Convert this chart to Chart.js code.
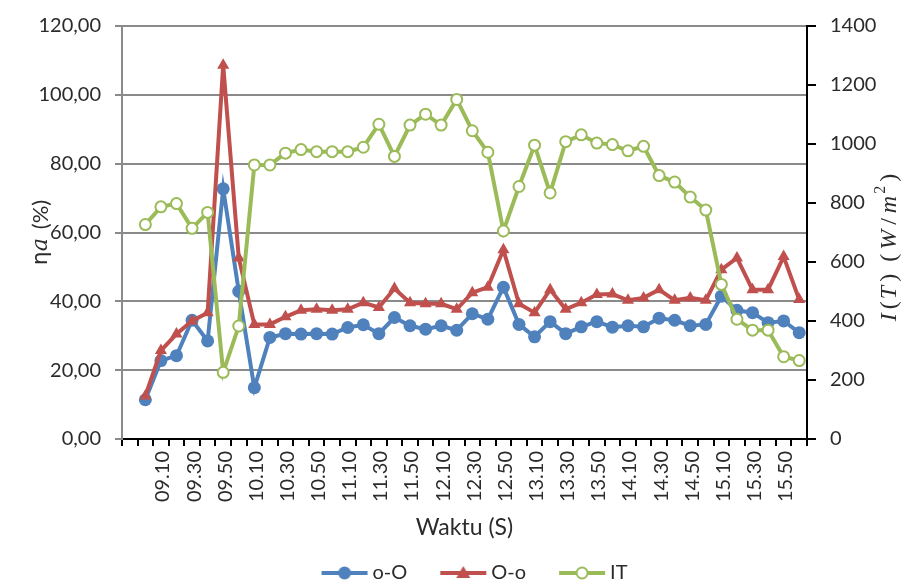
<!DOCTYPE html>
<html><head><meta charset="utf-8">
<script src="https://cdn.jsdelivr.net/npm/chart.js@4.4.0/dist/chart.umd.min.js"></script>
<style>html,body{margin:0;padding:0;background:#fff}#wrap{width:906px;height:583px;position:relative}canvas{display:block}</style>
</head><body><div id="wrap"><canvas id="c" width="906" height="583"></canvas></div>
<script>
// Category axis (first slot is an empty category, as in the reference)
const categories = ['', '09.00','09.10','09.20','09.30','09.40','09.50','10.00','10.10','10.20','10.30','10.40','10.50',
  '11.00','11.10','11.20','11.30','11.40','11.50','12.00','12.10','12.20','12.30','12.40','12.50',
  '13.00','13.10','13.20','13.30','13.40','13.50','14.00','14.10','14.20','14.30','14.40','14.50',
  '15.00','15.10','15.20','15.30','15.40','15.50','16.00'];

// ηa (%) series, left axis
const etaOO = [null, 11.4, 22.8, 24.2, 34.5, 28.5, 72.7, 42.9, 14.9, 29.5, 30.6, 30.5, 30.6, 30.5, 32.4, 33.2,
  30.6, 35.3, 32.9, 31.9, 32.9, 31.6, 36.4, 34.8, 44.1, 33.3, 29.7, 34.1, 30.6, 32.6, 34.1,
  32.5, 32.9, 32.6, 35.1, 34.5, 32.9, 33.3, 41.5, 37.4, 36.7, 33.8, 34.3, 30.9];
const etaOo = [null, 12.5, 25.7, 30.5, 34.3, 36.7, 108.6, 52.6, 33.3, 33.3, 35.5, 37.4, 37.7, 37.4, 37.7, 39.6,
  38.2, 43.7, 39.6, 39.3, 39.3, 37.7, 42.5, 44.1, 55.0, 39.3, 36.7, 43.4, 37.7, 39.6, 42.0,
  42.1, 40.3, 41.0, 43.4, 40.3, 41.0, 40.3, 49.2, 52.6, 43.4, 43.4, 53.0, 40.5];
// I(T) (W/m2) series, right axis
const irradiance = [null, 727, 787, 798, 714, 768, 226, 383, 929, 929, 969, 981, 974, 974, 974, 989,
  1067, 958, 1064, 1101, 1064, 1151, 1045, 972, 705, 856, 996, 834, 1008, 1031, 1003,
  998, 977, 992, 893, 871, 820, 776, 524, 406, 369, 369, 279, 266];

const seriesNames = ['o-O', 'O-o', 'IT'];
const leftTicks = {min: 0, max: 120, step: 20};
const rightTicks = {min: 0, max: 1400, step: 200};

const BLUE = '#4F81BD', RED = '#C0504D', GREEN = '#9BBB59';
const TXT = '#2b2b2b';
const FONT = 'Lato';

function legendImg(color, kind) {
  const c = document.createElement('canvas');
  c.width = 86; c.height = 18;
  const g = c.getContext('2d');
  g.strokeStyle = color; g.lineWidth = 4; g.lineCap = 'butt';
  g.beginPath(); g.moveTo(38, 9); g.lineTo(84, 9); g.stroke();
  const cx = 61, cy = 9;
  if (kind === 'circle') {
    g.fillStyle = color; g.beginPath(); g.arc(cx, cy, 6.5, 0, Math.PI * 2); g.fill();
  } else if (kind === 'tri') {
    g.fillStyle = color; g.beginPath();
    g.moveTo(cx, cy - 7); g.lineTo(cx + 7, cy + 5); g.lineTo(cx - 7, cy + 5); g.closePath(); g.fill();
  } else {
    g.fillStyle = '#fff'; g.lineWidth = 2; g.beginPath(); g.arc(cx, cy, 5.5, 0, Math.PI * 2); g.fill(); g.stroke();
  }
  return c;
}
const legendImgs = [legendImg(BLUE, 'circle'), legendImg(RED, 'tri'), legendImg(GREEN, 'open')];

function drawSegments(ctx, segs) {
  let total = 0;
  segs.forEach(s => { ctx.font = s.f; s.w = ctx.measureText(s.t).width; total += s.w + (s.gap || 0); });
  let x = -total / 2;
  segs.forEach(s => {
    ctx.font = s.f;
    ctx.fillText(s.t, x, s.dy || 0);
    x += s.w + (s.gap || 0);
  });
}

const titlePlugin = {
  id: 'axisTitles',
  afterDraw(chart) {
    const ctx = chart.ctx;
    const ca = chart.chartArea;
    const cy = (ca.top + ca.bottom) / 2;
    ctx.save();
    ctx.fillStyle = TXT;
    ctx.textBaseline = 'middle';
    ctx.textAlign = 'left';
    ctx.translate(41, cy);
    ctx.rotate(-Math.PI / 2);
    const upS = '22px ' + FONT, it = 'italic 22px "DejaVu Serif"';
    drawSegments(ctx, [
      {t: 'η', f: '22px "DejaVu Sans"'},
      {t: 'a', f: it, gap: 9},
      {t: '(%)', f: upS}
    ]);
    ctx.restore();
    ctx.save();
    ctx.fillStyle = TXT;
    ctx.textBaseline = 'middle';
    ctx.textAlign = 'left';
    ctx.translate(890, cy + 15);
    ctx.rotate(-Math.PI / 2);
    const it2 = 'italic 24px "Liberation Serif"', up2 = '24px "Liberation Serif"';
    drawSegments(ctx, [
      {t: 'I', f: it2, gap: 4},
      {t: '(', f: up2, gap: 2},
      {t: 'T', f: it2, gap: 4},
      {t: ')', f: up2, gap: 12},
      {t: '(', f: up2, gap: 4},
      {t: 'W', f: it2, gap: 5},
      {t: '/', f: up2, gap: 5},
      {t: 'm', f: it2, gap: 2},
      {t: '2', f: '16px "Liberation Serif"', dy: -9, gap: 4},
      {t: ')', f: up2}
    ]);
    ctx.restore();
  }
};

const fmt2 = v => Number(v).toFixed(2).replace('.', ',');

new Chart(document.getElementById('c'), {
  type: 'line',
  data: {
    labels: categories,
    datasets: [
      {label: seriesNames[0], data: etaOO, yAxisID: 'y', order: 3,
       borderColor: BLUE, backgroundColor: BLUE, borderWidth: 4,
       pointStyle: 'circle', pointRadius: 6.5, pointBackgroundColor: BLUE, pointBorderColor: BLUE, pointBorderWidth: 0},
      {label: seriesNames[1], data: etaOo, yAxisID: 'y', order: 2,
       borderColor: RED, backgroundColor: RED, borderWidth: 4,
       pointStyle: 'triangle', pointRadius: 7, pointBackgroundColor: RED, pointBorderColor: RED, pointBorderWidth: 0},
      {label: seriesNames[2], data: irradiance, yAxisID: 'y1', order: 1,
       borderColor: GREEN, backgroundColor: '#fff', borderWidth: 4,
       pointStyle: 'circle', pointRadius: 5.5, pointBackgroundColor: '#fff', pointBorderColor: GREEN, pointBorderWidth: 2}
    ]
  },
  options: {
    responsive: false,
    maintainAspectRatio: false,
    animation: false,
    devicePixelRatio: 1,
    layout: {padding: {top: 23, left: 12, right: 0, bottom: -10}},
    font: {family: FONT},
    plugins: {
      tooltip: {enabled: false},
      legend: {
        position: 'bottom',
        labels: {
          usePointStyle: true, pointStyleWidth: 72, padding: 2, color: TXT,
          font: {family: FONT, size: 20},
          generateLabels: (chart) => chart.data.datasets.map((ds, i) => ({
            text: ds.label, pointStyle: legendImgs[i], datasetIndex: i, hidden: false,
            fontColor: TXT, lineWidth: 0, strokeStyle: 'rgba(0,0,0,0)', fillStyle: 'rgba(0,0,0,0)'
          }))
        }
      }
    },
    scales: {
      x: {
        type: 'category', offset: true,
        grid: {offset: true, drawOnChartArea: false, drawTicks: true, tickLength: 7, tickColor: '#000', lineWidth: 2},
        border: {display: true, color: '#000', width: 2},
        ticks: {
          autoSkip: false, maxRotation: 90, minRotation: 90, padding: 5, labelOffset: 2,
          color: TXT, font: {family: FONT, size: 20},
          callback: (v, i) => (i > 0 && i % 2 === 0) ? categories[i] : ''
        },
        title: {display: true, text: 'Waktu (S)', color: TXT, font: {family: FONT, size: 23}, padding: {top: 0, bottom: 20}},
        afterFit: s => { s.height = 122; }
      },
      y: {
        position: 'left', min: leftTicks.min, max: leftTicks.max,
        grid: {color: c => c.tick && c.tick.value === 0 ? 'rgba(0,0,0,0)' : '#8a8a8a', lineWidth: 2,
               tickLength: 7, tickColor: '#8a8a8a'},
        border: {display: true, color: '#8a8a8a', width: 2},
        ticks: {stepSize: leftTicks.step, padding: 14, color: TXT, font: {family: FONT, size: 20}, callback: v => fmt2(v)},
        afterFit: s => { s.width = 110; }
      },
      y1: {
        position: 'right', min: rightTicks.min, max: rightTicks.max,
        grid: {drawOnChartArea: false, tickLength: 9, tickColor: '#000', lineWidth: 2},
        border: {display: true, color: '#000', width: 2},
        ticks: {stepSize: rightTicks.step, padding: 14, color: TXT, font: {family: FONT, size: 20}, callback: v => String(v)},
        afterFit: s => { s.width = 99; }
      }
    }
  },
  plugins: [titlePlugin]
});
</script>
</body></html>
